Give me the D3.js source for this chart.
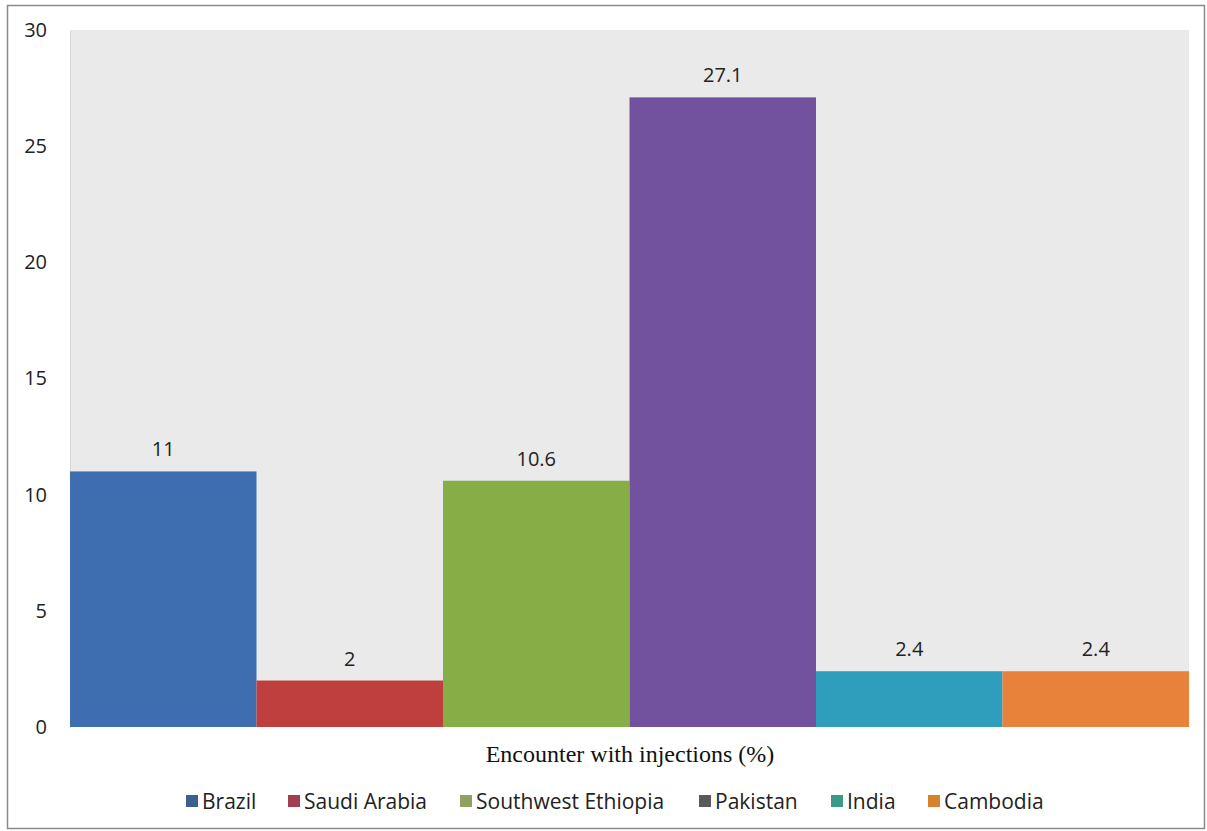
<!DOCTYPE html>
<html>
<head>
<meta charset="utf-8">
<script src="https://cdn.jsdelivr.net/npm/d3@7"></script>
<style>
  body { margin: 0; background: #fff; }
  svg { display: block; }
</style>
</head>
<body>
<div id="container"></div>
<script>
// Chart data
const countries = ["Brazil", "Saudi Arabia", "Southwest Ethiopia", "Pakistan", "India", "Cambodia"];
const values = [11, 2, 10.6, 27.1, 2.4, 2.4];
const valueLabels = ["11", "2", "10.6", "27.1", "2.4", "2.4"];
const yTicks = [0, 5, 10, 15, 20, 25, 30];
const barColors = ["#3e6eaf", "#bf3f3f", "#87ad47", "#72529e", "#2f9ebd", "#e8823a"];
const legendColors = ["#3e5f8f", "#a33d52", "#8fa060", "#5a5a5a", "#3a9a88", "#d9822e"];
const xTitle = "Encounter with injections (%)";

const width = 1207;
const height = 831;
const marginTop = 30;
const marginRight = 18;
const marginBottom = 104;
const marginLeft = 70;

const labelFont = "'Open Sans', 'Noto Sans', sans-serif";

const x = d3.scaleBand()
    .domain(countries)
    .range([marginLeft, width - marginRight])
    .padding(0);

const y = d3.scaleLinear()
    .domain([0, 30])
    .range([height - marginBottom, marginTop]);

const svg = d3.create("svg")
    .attr("width", width)
    .attr("height", height)
    .attr("viewBox", [0, 0, width, height]);

// outer chart border
svg.append("rect")
    .attr("x", 7.5).attr("y", 5.5)
    .attr("width", width - 10).attr("height", height - 8)
    .attr("fill", "#fff")
    .attr("stroke", "#8a8a8a")
    .attr("stroke-width", 1.5);

// plot area background
svg.append("rect")
    .attr("x", marginLeft)
    .attr("y", y(30))
    .attr("width", width - marginRight - marginLeft)
    .attr("height", y(0) - y(30))
    .attr("fill", "#eaeaea");

// y axis
svg.append("g")
    .attr("transform", `translate(${marginLeft},0)`)
    .call(d3.axisLeft(y).tickValues(yTicks).tickSize(0).tickPadding(23))
    .call(g => g.select(".domain").attr("stroke", "#d8d8d8"))
    .call(g => g.selectAll("text")
        .attr("font-family", labelFont)
        .attr("font-size", 20)
        .attr("fill", "#222"));

// bars
svg.append("g")
  .selectAll()
  .data(countries)
  .join("rect")
    .attr("x", d => x(d))
    .attr("y", (d, i) => y(values[i]))
    .attr("width", x.bandwidth())
    .attr("height", (d, i) => y(0) - y(values[i]))
    .attr("fill", (d, i) => barColors[i]);

// value labels
svg.append("g")
  .selectAll()
  .data(countries)
  .join("text")
    .attr("x", d => x(d) + x.bandwidth() / 2)
    .attr("y", (d, i) => y(values[i]) - 15)
    .attr("text-anchor", "middle")
    .attr("font-family", labelFont)
    .attr("font-size", 20)
    .attr("fill", "#222")
    .text((d, i) => valueLabels[i]);

// x axis title
svg.append("text")
    .attr("x", 630)
    .attr("y", 762)
    .attr("text-anchor", "middle")
    .attr("font-family", "'Liberation Serif', 'Times New Roman', serif")
    .attr("font-size", 24)
    .attr("fill", "#111")
    .text(xTitle);

// legend
const legendX = [186, 288, 460, 699, 831, 928];
const legend = svg.append("g")
  .selectAll()
  .data(countries)
  .join("g")
    .attr("transform", (d, i) => `translate(${legendX[i]},801)`);

legend.append("rect")
    .attr("x", 0).attr("y", -6)
    .attr("width", 12).attr("height", 12)
    .attr("fill", (d, i) => legendColors[i]);

legend.append("text")
    .attr("x", 16)
    .attr("y", 7.5)
    .attr("font-family", labelFont)
    .attr("font-size", 21)
    .attr("fill", "#222")
    .text(d => d);

container.append(svg.node());
</script>
</body>
</html>
